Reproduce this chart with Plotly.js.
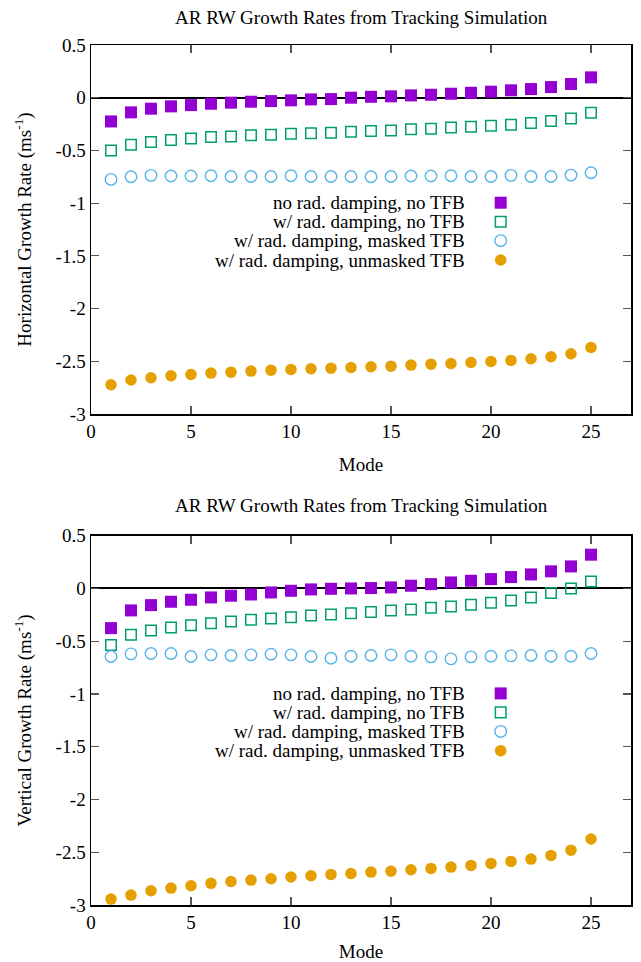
<!DOCTYPE html>
<html>
<head>
<meta charset="utf-8">
<script src="https://cdn.plot.ly/plotly-3.0.1.min.js"></script>
<style>
html,body{margin:0;padding:0;background:#fff;}
#chart{width:641px;height:962px;}
</style>
</head>
<body>
<div id="chart"></div>
<script>
// ---------- data ----------
var modes = [1,2,3,4,5,6,7,8,9,10,11,12,13,14,15,16,17,18,19,20,21,22,23,24,25];

var seriesNames = [
  "no rad. damping, no TFB",
  "w/ rad. damping, no TFB",
  "w/ rad. damping, masked TFB",
  "w/ rad. damping, unmasked TFB"
];

// Horizontal growth rates (top panel)
var hNoRadNoTFB = [-0.225,-0.139,-0.104,-0.082,-0.070,-0.057,-0.047,-0.038,-0.032,-0.025,-0.016,-0.013,0.000,0.009,0.013,0.022,0.028,0.038,0.047,0.057,0.070,0.082,0.101,0.130,0.193];
var hRadNoTFB   = [-0.500,-0.446,-0.421,-0.402,-0.386,-0.373,-0.367,-0.357,-0.351,-0.342,-0.338,-0.332,-0.323,-0.315,-0.310,-0.300,-0.294,-0.282,-0.275,-0.266,-0.256,-0.240,-0.221,-0.196,-0.142];
var hRadMasked  = [-0.775,-0.750,-0.737,-0.743,-0.743,-0.740,-0.747,-0.747,-0.747,-0.740,-0.747,-0.747,-0.747,-0.750,-0.747,-0.743,-0.743,-0.740,-0.747,-0.747,-0.737,-0.747,-0.747,-0.734,-0.712];
var hRadUnmasked= [-2.723,-2.678,-2.656,-2.637,-2.625,-2.612,-2.603,-2.593,-2.584,-2.578,-2.571,-2.565,-2.559,-2.552,-2.546,-2.536,-2.527,-2.521,-2.511,-2.502,-2.492,-2.476,-2.457,-2.429,-2.369];

// Vertical growth rates (bottom panel)
var vNoRadNoTFB = [-0.376,-0.208,-0.158,-0.126,-0.107,-0.085,-0.069,-0.057,-0.038,-0.022,-0.009,-0.003,0.000,0.004,0.010,0.026,0.041,0.057,0.073,0.089,0.108,0.133,0.162,0.209,0.320];
var vRadNoTFB   = [-0.537,-0.439,-0.398,-0.370,-0.348,-0.329,-0.313,-0.297,-0.284,-0.272,-0.256,-0.246,-0.234,-0.224,-0.208,-0.199,-0.183,-0.171,-0.155,-0.136,-0.114,-0.085,-0.044,0.000,0.067];
var vRadMasked  = [-0.645,-0.620,-0.616,-0.616,-0.645,-0.629,-0.635,-0.629,-0.623,-0.629,-0.645,-0.661,-0.642,-0.635,-0.629,-0.642,-0.648,-0.667,-0.648,-0.642,-0.639,-0.635,-0.642,-0.642,-0.616];
var vRadUnmasked= [-2.944,-2.906,-2.865,-2.840,-2.818,-2.795,-2.777,-2.764,-2.751,-2.735,-2.723,-2.710,-2.701,-2.688,-2.679,-2.666,-2.653,-2.641,-2.625,-2.606,-2.587,-2.565,-2.530,-2.480,-2.375];

var xTickVals = [0,5,10,15,20,25];
var xTickLabels = ["0","5","10","15","20","25"];
var yTickVals = [0.5,0,-0.5,-1,-1.5,-2,-2.5,-3];
var yTickLabels = ["0.5","0","-0.5","-1","-1.5","-2","-2.5","-3"];

var panelTitle = "AR RW Growth Rates from Tracking Simulation";
var xTitle = "Mode";
var yTitleTop = "Horizontal Growth Rate (ms<sup>-1</sup>)";
var yTitleBottom = "Vertical Growth Rate (ms<sup>-1</sup>)";

// ---------- styles ----------
var FONT = "Liberation Serif, Times New Roman, serif";
var colors = ["#9400D3", "#009E73", "#56B4E9", "#E69F00"];
var markers = [
  {symbol:"square", size:12, color:colors[0], line:{width:0}},
  {symbol:"square-open", size:10.5, color:colors[1], line:{width:1.5}},
  {symbol:"circle-open", size:11.5, color:colors[2], line:{width:1.4}},
  {symbol:"circle", size:11.5, color:colors[3], line:{width:0}}
];

var W = 641, H = 962;
var M = {l:91, r:10, t:45, b:57};
var plotH = H - M.t - M.b, plotW = W - M.l - M.r;
function py(pxY){ return (H - M.b - pxY) / plotH; }
function px(pxX){ return (pxX - M.l) / plotW; }

var topSeries = [hNoRadNoTFB, hRadNoTFB, hRadMasked, hRadUnmasked];
var botSeries = [vNoRadNoTFB, vRadNoTFB, vRadMasked, vRadUnmasked];

var traces = [];
topSeries.forEach(function(s,i){
  traces.push({x:modes, y:s, type:"scatter", mode:"markers", name:seriesNames[i],
    marker:markers[i], xaxis:"x", yaxis:"y", showlegend:false, cliponaxis:false});
});
botSeries.forEach(function(s,i){
  traces.push({x:modes, y:s, type:"scatter", mode:"markers", name:seriesNames[i],
    marker:markers[i], xaxis:"x2", yaxis:"y2", showlegend:false, cliponaxis:false});
});

function xAxis(anchor){
  return {anchor:anchor, domain:[0,1], range:[0,27], tickvals:xTickVals, ticktext:xTickLabels,
    ticks:"inside", ticklen:8, tickwidth:1.2, tickcolor:"#555", mirror:"ticks",
    showline:true, linecolor:"#000", linewidth:1.5, showgrid:false, zeroline:false,
    tickfont:{family:FONT, size:19, color:"#000"},
    title:{text:xTitle, font:{family:FONT, size:19, color:"#000"}, standoff:16}};
}
function yAxis(anchor, domain, title){
  return {anchor:anchor, domain:domain, range:[-3,0.5], tickvals:yTickVals, ticktext:yTickLabels,
    ticks:"inside", ticklen:8, tickwidth:1.2, tickcolor:"#555", mirror:"ticks",
    showline:true, linecolor:"#000", linewidth:1.5, showgrid:false,
    zeroline:true, zerolinecolor:"#000", zerolinewidth:2,
    tickfont:{family:FONT, size:19, color:"#000"},
    title:{text:title, font:{family:FONT, size:19, color:"#000"}, standoff:19}};
}

var topDomain = [py(414), 1];
var botDomain = [0, py(535.7)];

var annotations = [
  {text:panelTitle, xref:"paper", yref:"paper", x:0.5, y:py(18), xanchor:"center", yanchor:"middle", showarrow:false, font:{family:FONT, size:19, color:"#000"}},
  {text:panelTitle, xref:"paper", yref:"paper", x:0.5, y:py(505), xanchor:"center", yanchor:"middle", showarrow:false, font:{family:FONT, size:19, color:"#000"}}
];
var shapes = [];
var legendRowsTop = [202.7, 221.7, 240.7, 260];
var panelOffset = 490.7;
var legTextX = px(467), legSymX = px(500.7);
[0, panelOffset].forEach(function(off){
  legendRowsTop.forEach(function(r,i){
    var yy = py(r + off);
    annotations.push({text:seriesNames[i], xref:"paper", yref:"paper", x:legTextX, y:yy,
      xanchor:"right", yanchor:"middle", showarrow:false, font:{family:FONT, size:19, color:"#000"}});
    var base = {xref:"paper", yref:"paper", xsizemode:"pixel", ysizemode:"pixel", xanchor:legSymX, yanchor:yy};
    var s;
    if(i===0) s = Object.assign({type:"rect", x0:-6, x1:6, y0:-6, y1:6, fillcolor:colors[0], line:{width:0}}, base);
    if(i===1) s = Object.assign({type:"rect", x0:-5.3, x1:5.3, y0:-5.3, y1:5.3, fillcolor:"rgba(0,0,0,0)", line:{color:colors[1], width:1.5}}, base);
    if(i===2) s = Object.assign({type:"circle", x0:-5.8, x1:5.8, y0:-5.8, y1:5.8, fillcolor:"rgba(0,0,0,0)", line:{color:colors[2], width:1.4}}, base);
    if(i===3) s = Object.assign({type:"circle", x0:-5.8, x1:5.8, y0:-5.8, y1:5.8, fillcolor:colors[3], line:{width:0}}, base);
    shapes.push(s);
  });
});

var layout = {
  width:W, height:H, margin:M, paper_bgcolor:"#fff", plot_bgcolor:"#fff",
  showlegend:false,
  xaxis:xAxis("y"), yaxis:yAxis("x", topDomain, yTitleTop),
  xaxis2:xAxis("y2"), yaxis2:yAxis("x2", botDomain, yTitleBottom),
  annotations:annotations, shapes:shapes
};

Plotly.newPlot("chart", traces, layout, {displayModeBar:false, staticPlot:true});
</script>
</body>
</html>
